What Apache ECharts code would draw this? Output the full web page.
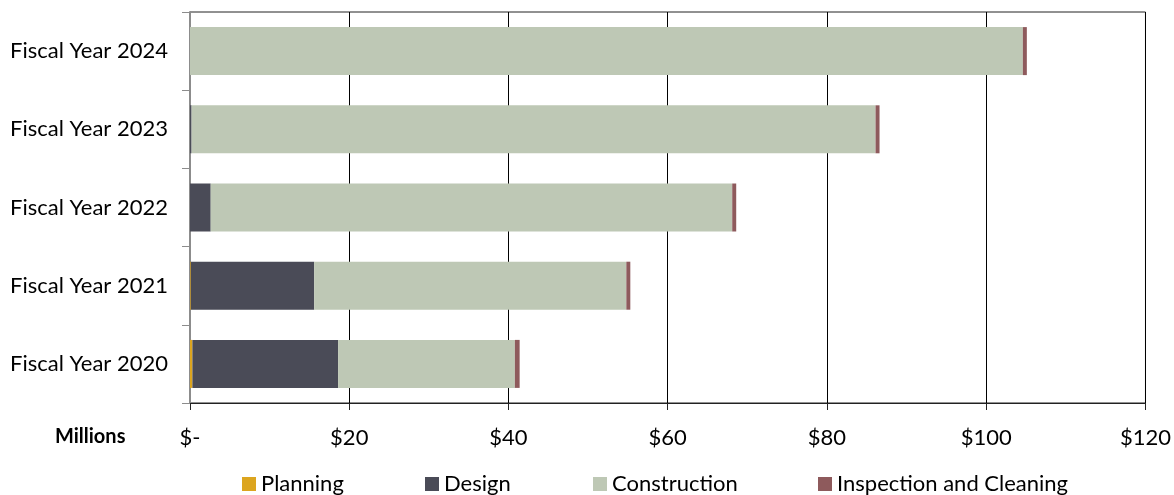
<!DOCTYPE html>
<html>
<head>
<meta charset="utf-8">
<script src="https://cdn.jsdelivr.net/npm/echarts@6/dist/echarts.min.js"></script>
<style>
  html, body { margin: 0; padding: 0; background: #fff; }
  #chart { width: 1174px; height: 495px; }
</style>
</head>
<body>
<div id="chart"></div>
<script>
  // values in millions of dollars, bottom to top
  const years = ['Fiscal Year 2020', 'Fiscal Year 2021', 'Fiscal Year 2022', 'Fiscal Year 2023', 'Fiscal Year 2024']
  const planning = [0.3, 0.1, 0, 0, 0]
  const design = [18.3, 15.5, 2.6, 0.2, 0]
  const construction = [22.2, 39.2, 65.5, 85.9, 104.6]
  const inspection = [0.6, 0.5, 0.5, 0.5, 0.5]
  const xTicks = [0, 20, 40, 60, 80, 100, 120]

  const font = 'Lato, "Open Sans", sans-serif'
  const colors = {
    Planning: '#DCA51F',
    Design: '#4A4B57',
    Construction: '#BEC8B5',
    'Inspection and Cleaning': '#8E5A5C'
  }

  const chart = echarts.init(document.getElementById('chart'))

  function makeSeries(name, data) {
    return {
      name: name,
      type: 'bar',
      stack: 'total',
      barWidth: 48,
      itemStyle: { color: colors[name] },
      data: data
    }
  }

  function legendItem(name, left) {
    return {
      data: [name],
      left: left,
      top: 473,
      padding: 0,
      itemWidth: 14,
      itemHeight: 14,
      itemGap: 6,
      icon: 'rect',
      textStyle: { fontFamily: font, fontSize: 22, color: '#000', padding: [4, 0, 0, 0] }
    }
  }

  const option = {
    animation: false,
    grid: {
      left: 190, right: 28, top: 12, bottom: 92,
      show: true, borderColor: '#222', borderWidth: 1
    },
    legend: [
      legendItem('Planning', 242),
      legendItem('Design', 425),
      legendItem('Construction', 593),
      legendItem('Inspection and Cleaning', 818)
    ],
    graphic: [{
      type: 'text',
      left: 55,
      top: 427,
      style: { text: 'Millions', font: 'bold 20px ' + font, fill: '#000' }
    }],
    xAxis: {
      type: 'value',
      min: 0,
      max: 120,
      interval: 20,
      axisLine: { show: true, lineStyle: { color: '#222', width: 1 } },
      axisTick: { show: true, length: 7, lineStyle: { color: '#222' } },
      splitLine: { show: true, lineStyle: { color: '#000', width: 1 } },
      axisLabel: {
        margin: 24,
        fontFamily: font,
        fontSize: 22,
        color: '#000',
        formatter: function (v) {
          return xTicks.indexOf(v) === 0 ? '$-' : '$' + v
        }
      }
    },
    yAxis: {
      type: 'category',
      data: years,
      axisLine: { show: true, lineStyle: { color: '#8c8c8c', width: 2 } },
      axisTick: { show: true, length: 8, lineStyle: { color: '#8c8c8c', width: 1 } },
      axisLabel: { margin: 22, fontFamily: font, fontSize: 22, color: '#000' }
    },
    series: [
      makeSeries('Planning', planning),
      makeSeries('Design', design),
      makeSeries('Construction', construction),
      makeSeries('Inspection and Cleaning', inspection)
    ]
  }

  chart.setOption(option)
</script>
</body>
</html>
